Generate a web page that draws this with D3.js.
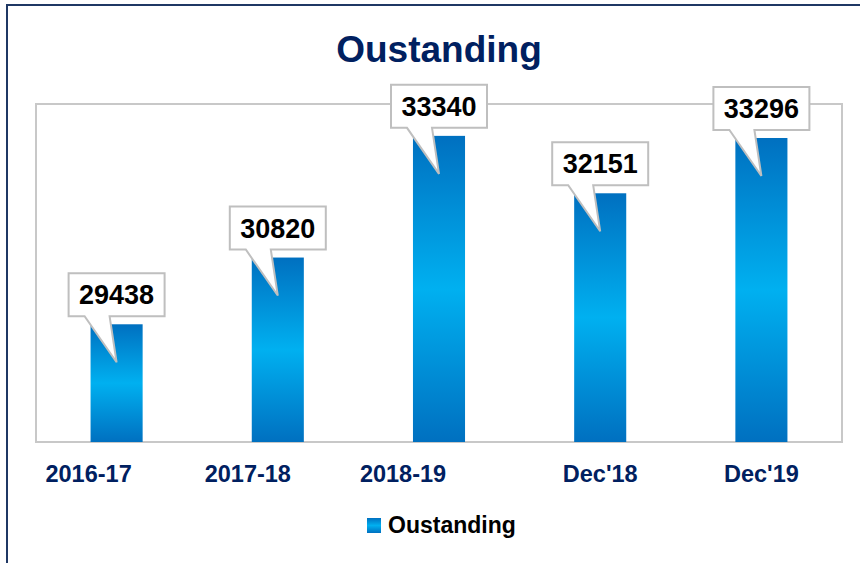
<!DOCTYPE html>
<html>
<head>
<meta charset="utf-8">
<script src="https://cdn.jsdelivr.net/npm/d3@7"></script>
<style>
  body { margin: 0; background: #fff; }
  svg { display: block; font-family: "Liberation Sans", Arial, sans-serif; }
</style>
</head>
<body>
<div id="chart"></div>
<script>
// data
const categories = ["2016-17", "2017-18", "2018-19", "Dec'18", "Dec'19"];
const values = [29438, 30820, 33340, 32151, 33296];
const seriesName = "Oustanding";
const chartTitle = "Oustanding";
const yDomain = [27000, 34000];

const W = 860, H = 563;
const plot = { left: 36, right: 842, top: 104, bottom: 442 };
// the first three tick labels sit a bit left of their bars in the original
const labelNudge = [-28, -30, -36, 0, 0];

const svg = d3.select("#chart").append("svg")
  .attr("width", W)
  .attr("height", H);

const defs = svg.append("defs");
const grad = defs.append("linearGradient")
  .attr("id", "barGrad")
  .attr("x1", 0).attr("y1", 0).attr("x2", 0).attr("y2", 1);
grad.append("stop").attr("offset", "0%").attr("stop-color", "#0070c0");
grad.append("stop").attr("offset", "50%").attr("stop-color", "#00b0f0");
grad.append("stop").attr("offset", "100%").attr("stop-color", "#0070c0");

// outer frame (runs off the right and bottom edges)
svg.append("rect")
  .attr("x", 7).attr("y", 5)
  .attr("width", W + 20).attr("height", H + 20)
  .attr("fill", "#fff")
  .attr("stroke", "#1f3864")
  .attr("stroke-width", 2);

const x = d3.scaleBand()
  .domain(categories)
  .range([plot.left, plot.right])
  .paddingInner(0.677)
  .paddingOuter(0.3385);

const y = d3.scaleLinear()
  .domain(yDomain)
  .range([plot.bottom, plot.top]);

// plot area box
svg.append("rect")
  .attr("x", plot.left).attr("y", plot.top)
  .attr("width", plot.right - plot.left)
  .attr("height", plot.bottom - plot.top)
  .attr("fill", "none")
  .attr("stroke", "#c8c8c8")
  .attr("stroke-width", 2);

svg.append("text")
  .attr("x", (plot.left + plot.right) / 2)
  .attr("y", 62)
  .attr("text-anchor", "middle")
  .attr("fill", "#002060")
  .attr("font-weight", "bold")
  .attr("font-size", "37px")
  .text(chartTitle);

const data = categories.map((c, i) => ({ cat: c, value: values[i], i }));

svg.append("g").selectAll("rect")
  .data(data)
  .join("rect")
  .attr("x", d => x(d.cat))
  .attr("y", d => y(d.value))
  .attr("width", x.bandwidth())
  .attr("height", d => plot.bottom - y(d.value))
  .attr("fill", "url(#barGrad)");

// x axis labels
const xAxis = svg.append("g")
  .attr("transform", `translate(0,${plot.bottom})`)
  .call(d3.axisBottom(x).tickSize(0).tickPadding(0));
xAxis.select(".domain").remove();
xAxis.selectAll(".tick text")
  .attr("y", 40)
  .attr("dy", 0)
  .attr("dx", (d, i) => labelNudge[i])
  .attr("fill", "#002060")
  .attr("font-family", "'Liberation Sans', Arial, sans-serif")
  .attr("font-weight", "bold")
  .attr("font-size", "23.5px");

// callouts
const callouts = svg.append("g").selectAll("g")
  .data(data)
  .join("g")
  .attr("transform", d => `translate(${x(d.cat) + x.bandwidth() / 2},${y(d.value)})`);

callouts.append("path")
  .attr("d", () => {
    const l = -48, r = 48, t = -51, b = -8;
    return `M${l},${t}H${r}V${b}H-7L0,38L-32,${b}H${l}Z`;
  })
  .attr("fill", "#fff")
  .attr("stroke", "#bfbfbf")
  .attr("stroke-width", 2)
  .attr("stroke-linejoin", "miter");

callouts.append("text")
  .attr("x", 0)
  .attr("y", -20)
  .attr("text-anchor", "middle")
  .attr("fill", "#000")
  .attr("font-weight", "bold")
  .attr("font-size", "27px")
  .text(d => d.value);

// legend
const legend = svg.append("g").attr("transform", "translate(367,518)");
legend.append("rect")
  .attr("width", 14).attr("height", 15)
  .attr("fill", "url(#barGrad)");
legend.append("text")
  .attr("x", 21).attr("y", 15)
  .attr("fill", "#000")
  .attr("font-weight", "bold")
  .attr("font-size", "23px")
  .text(seriesName);
</script>
</body>
</html>
